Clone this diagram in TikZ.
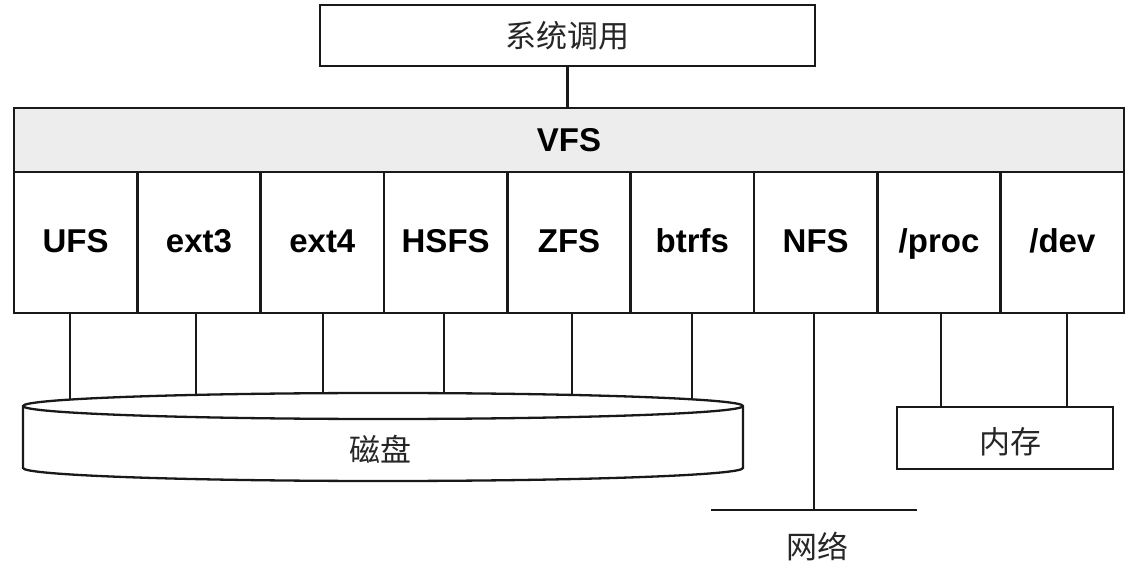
\documentclass[tikz,border=0pt]{standalone}
\usepackage{fontspec}
\newfontfamily\arialf{Liberation Sans}
\newfontfamily\cjk{Noto Sans CJK SC}
\begin{document}
\begin{tikzpicture}[x=1pt,y=1pt,
  ln/.style={line width=2.6pt, draw=black!90},
  box/.style={ln, rectangle, inner sep=0pt},
  fsbox/.style={box, minimum width=123.33pt, minimum height=141pt, text height=26pt, text depth=5pt, font=\arialf\bfseries\fontsize{33}{36}\selectfont},
  cjklab/.style={font=\cjk\fontsize{31}{34}\selectfont, text=black!85},
]
\useasboundingbox (0,0) rectangle (1137,573);
% top
\node[box, minimum width=495pt, minimum height=61pt, cjklab] (sys) at (567.5,537.5) {系统调用};
\node[box, fill=black!7, minimum width=1110pt, minimum height=64pt, font=\arialf\bfseries\fontsize{33}{36}\selectfont] (vfs) at (569,433) {VFS};
\draw[ln] (sys.south) -- (sys.south |- vfs.north);
% file systems
\node[fsbox] (ufs)   at (75.67,330.5)  {UFS};
\node[fsbox] (ext3)  at (199,330.5)    {ext3};
\node[fsbox] (ext4)  at (322.33,330.5) {ext4};
\node[fsbox] (hsfs)  at (445.67,330.5) {HSFS};
\node[fsbox] (zfs)   at (569,330.5)    {ZFS};
\node[fsbox] (btrfs) at (692.33,330.5) {btrfs};
\node[fsbox] (nfs)   at (815.67,330.5) {NFS};
\node[fsbox] (proc)  at (939,330.5)    {/proc};
\node[fsbox] (dev)   at (1062.33,330.5){/dev};
% connectors to disk (lower ends hidden by the disk)
\draw[ln] ([xshift=-5.7pt]ufs.south) -- ++(0,-95);
\draw[ln] ([xshift=-3pt]ext3.south) -- ++(0,-95);
\draw[ln] ([xshift=0.7pt]ext4.south) -- ++(0,-95);
\draw[ln] ([xshift=-1.7pt]hsfs.south) -- ++(0,-95);
\draw[ln] ([xshift=3pt]zfs.south) -- ++(0,-95);
\draw[ln] ([xshift=-0.3pt]btrfs.south) -- ++(0,-95);
% disk
\draw[ln, line width=2.3pt, fill=white] (23,167) -- (23,105)
  arc[start angle=180, end angle=360, x radius=360, y radius=13]
  -- (743,167)
  arc[start angle=0, end angle=180, x radius=360, y radius=13] -- cycle;
\draw[ln, line width=2.3pt] (23,167) arc[start angle=180, end angle=360, x radius=360, y radius=13];
\node[cjklab] (disk) at (380,124) {磁盘};
% network
\coordinate (netL) at (711,63);
\coordinate (netR) at (917,63);
\draw[ln] ([xshift=-1.7pt]nfs.south) -- ([xshift=-1.7pt]nfs.south |- netL);
\draw[ln] (netL) -- (netR);
\node[cjklab] (net) at (817,27) {网络};
% memory
\node[box, minimum width=216pt, minimum height=62pt] (mem) at (1005,135) {};
\node[cjklab] (memt) at (1010,131) {内存};
\draw[ln] ([xshift=2pt]proc.south) -- ([xshift=2pt]proc.south |- mem.north);
\draw[ln] ([xshift=4.7pt]dev.south) -- ([xshift=4.7pt]dev.south |- mem.north);
\end{tikzpicture}
\end{document}
